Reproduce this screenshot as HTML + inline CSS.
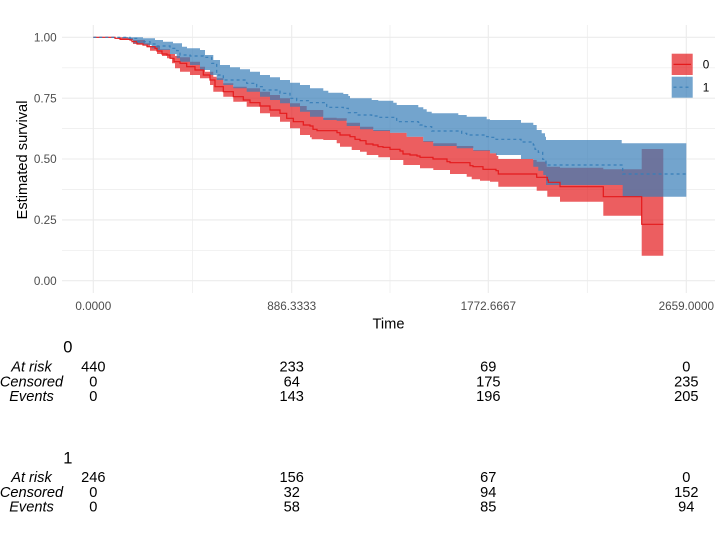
<!DOCTYPE html>
<html>
<head>
<meta charset="utf-8">
<style>
  html,body{margin:0;padding:0;background:#fff;}
  svg{display:block;}
  text{font-family:"Liberation Sans", Arial, sans-serif;}
</style>
</head>
<body>
<svg width="716" height="552" viewBox="0 0 716 552" xmlns="http://www.w3.org/2000/svg">
  <rect x="0" y="0" width="716" height="552" fill="#ffffff"/>

  <!-- minor grid -->
  <g stroke="#EBEBEB" stroke-width="0.7" fill="none">
    <line x1="62" x2="715" y1="250.3" y2="250.3"/>
    <line x1="62" x2="715" y1="189.5" y2="189.5"/>
    <line x1="62" x2="715" y1="128.6" y2="128.6"/>
    <line x1="62" x2="715" y1="67.8" y2="67.8"/>
    <line x1="192.5" x2="192.5" y1="25" y2="293"/>
    <line x1="390" x2="390" y1="25" y2="293"/>
    <line x1="587.3" x2="587.3" y1="25" y2="293"/>
  </g>
  <!-- major grid -->
  <g stroke="#EBEBEB" stroke-width="1.1" fill="none">
    <line x1="62" x2="715" y1="37.3" y2="37.3"/>
    <line x1="62" x2="715" y1="98.2" y2="98.2"/>
    <line x1="62" x2="715" y1="159" y2="159"/>
    <line x1="62" x2="715" y1="219.9" y2="219.9"/>
    <line x1="62" x2="715" y1="280.7" y2="280.7"/>
    <line x1="93.3" x2="93.3" y1="25" y2="293"/>
    <line x1="291.7" x2="291.7" y1="25" y2="293"/>
    <line x1="488.3" x2="488.3" y1="25" y2="293"/>
    <line x1="686.3" x2="686.3" y1="25" y2="293"/>
  </g>

  <!-- red ribbon -->
  <path fill="#E41A1C" fill-opacity="0.7" stroke="none" d="M93.3 37.3 H128 V38.3 H133 V40 H145 V43.3 H150 V46 H160 V49.3 H170 V54 H175 V56 H180 V57.3 H190 V61.7 H200 V66.7 H205 V71.7 H213.3 V76.7 H216.7 V78.3 H223.3 V83.3 H233.3 V86.7 H246.7 V88.3 H260 V91.7 H270 V95 H280 V98.3 H290 V103.3 H300 V106 H306.7 V110 H323.3 V117.7 H336.7 V118.3 H346.7 V122.7 H360 V126.7 H373.3 V130 H390 V132.7 H406.7 V136.7 H423.3 V141 H433.3 V143.3 H456.7 V146 H473.3 V150 H490 V153.3 H496.7 V156 H498.3 V159 H533.3 V160 H536.7 V161.7 H546.7 V166.7 H560 V167.7 H603.3 V169.3 H641.7 V149 H663.3 V255.7 H641.7 V215.7 H603.3 V201.7 H560 V196.7 H547.3 V190.7 H536.7 V186.7 H498.3 V181.7 H490 V180.7 H480 V179.3 H471.7 V176.7 H466.7 V174 H450 V170 H433.3 V168.3 H420 V165 H403.3 V160 H390 V157.3 H378.3 V155 H366.7 V151.7 H360 V150 H351.7 V146.7 H340 V143.3 H336.7 V140 H323.3 V139.3 H311.7 V137.3 H310 V135 H300 V128.3 H290 V121.7 H280 V116.7 H270 V113.3 H260 V106.7 H246.7 V101.7 H233.3 V96.7 H223.3 V91.7 H213.3 V85 H210 V78.3 H200 V75 H190 V71.7 H180 V68.3 H175 V63.3 H172 V58.3 H167 V56 H162 V54 H157 V50.7 H150 V47.3 H147 V44 H133 V40 H120 V38.3 H118 V37.3 H93.3 Z"/>

  <!-- blue ribbon -->
  <path fill="#377EB8" fill-opacity="0.7" stroke="none" d="M93.3 37.3 H143 V38.3 H155 V40 H163 V41.7 H173 V43.3 H182 V46.7 H187 V48.3 H200 V50 H205 V55 H213.3 V60 H220 V65 H230 V67.3 H240 V69.3 H250 V71.7 H260 V75 H270 V77.3 H280 V80 H290 V82.7 H300 V85 H310 V88.3 H323.3 V90.7 H328.3 V92.7 H343.3 V94 H348.3 V96 H350 V98.3 H371.7 V100 H378.3 V100.7 H393.3 V102.7 H396.7 V105 H418.3 V107.3 H423.3 V109.3 H426.7 V111.7 H431.7 V113.3 H458.3 V115 H466.7 V116.7 H486.7 V119.3 H490 V120 H521 V122.7 H533.3 V125 H536.7 V130 H541.7 V133.3 H545 V136.7 H546 V140 H621.7 V143.3 H686.3 V196.7 H622.7 V185 H546 V175 H543.3 V170.7 H538.3 V166.7 H533.3 V159 H521 V155 H496 V153.3 H490 V150.7 H473.3 V148.3 H456.7 V146 H433.3 V141.7 H423.3 V136.7 H406.7 V132.7 H390 V131 H373.3 V129.3 H360 V126 H346.7 V120.7 H336.7 V120 H323.3 V116.7 H310 V111.7 H300 V106.7 H290 V103.3 H280 V100 H270 V96.7 H260 V91.7 H246.7 V88.3 H233.3 V85 H223.3 V80 H216.7 V75 H210 V70 H200 V65 H190 V61.7 H180 V58.3 H176.7 V54 H170 V50 H156.7 V48.3 H151.7 V45 H143.3 V43.3 H133.3 V40 H128 V38.3 H122 V37.3 H93.3 Z"/>

  <!-- red line -->
  <path fill="none" stroke="#E41A1C" stroke-width="1.2" d="M93.3 37.3 H115 V38.3 H120 V39.3 H130 V40 H132 V41.7 H137 V44 H143 V45 H147 V46.7 H155 V48.3 H157 V51 H162 V54 H167 V55 H170 V58.3 H174 V61.7 H180 V63.3 H186.7 V66.7 H195 V70 H203.3 V75 H210 V80 H215 V86.7 H223.3 V91.7 H233.3 V96.7 H243.3 V100 H250 V102.7 H260 V106 H270 V110 H280 V113.3 H286.7 V118.3 H293.3 V121.7 H303.3 V125 H310 V126 H313 V129.3 H317 V130.7 H337 V132.7 H340 V135 H350 V136.7 H355 V139.3 H360 V140.7 H366 V144 H373 V145 H378 V146.7 H383 V147.3 H390 V149.3 H400 V151 H403 V154 H410 V155 H417 V156 H420 V157.3 H433 V159 H447 V161.7 H450 V162.7 H470 V165.7 H473 V166.7 H483 V169.3 H496 V170.7 H498.3 V174 H536.7 V177.3 H547.3 V180 H548.3 V182.3 H560 V186.7 H603.3 V196.7 H641.7 V224.3 H663.3"/>

  <!-- blue line dashed -->
  <path fill="none" stroke="#377EB8" stroke-width="1.2" stroke-dasharray="3,3" d="M93.3 37.3 H130 V38.3 H136.7 V41.7 H150 V44 H156.7 V46 H170 V48.3 H176.7 V50.7 H180 V55 H190 V56 H203.3 V57.3 H211.7 V63.3 H216.7 V75 H223.3 V80 H246.7 V83.3 H256.7 V86.7 H263.3 V90 H280 V93.3 H290 V98.3 H296.7 V100.7 H310 V102.7 H326.7 V107.3 H343.3 V108.3 H348.3 V112.7 H356.7 V115 H371.7 V116 H378.3 V117.3 H396.7 V121.7 H418.3 V122.3 H420 V125 H425 V126.7 H431.7 V131 H461.7 V133.3 H466.7 V135 H486.7 V136.7 H490 V137.3 H496 V139.3 H521 V142 H533.3 V145 H535 V149.3 H538.3 V152.3 H542.7 V159.3 H546 V165 H622.7 V174 H686.3"/>

  <!-- y tick labels -->
  <g fill="#4D4D4D" font-size="11.73" text-anchor="end">
    <text x="56.7" y="41.6">1.00</text>
    <text x="56.7" y="102.4">0.75</text>
    <text x="56.7" y="163.2">0.50</text>
    <text x="56.7" y="224.1">0.25</text>
    <text x="56.7" y="284.9">0.00</text>
  </g>
  <!-- x tick labels -->
  <g fill="#4D4D4D" font-size="11.73" text-anchor="middle">
    <text x="93.3" y="310">0.0000</text>
    <text x="291.7" y="310">886.3333</text>
    <text x="488.3" y="310">1772.6667</text>
    <text x="686.3" y="310">2659.0000</text>
  </g>

  <!-- axis titles -->
  <text x="388.5" y="328.3" font-size="14.67" text-anchor="middle" fill="#000">Time</text>
  <text transform="translate(27,160) rotate(-90)" font-size="14.67" text-anchor="middle" fill="#000">Estimated survival</text>

  <!-- legend -->
  <rect x="671.7" y="53.7" width="21" height="21.3" fill="#E41A1C" fill-opacity="0.7"/>
  <line x1="673.5" x2="691" y1="64.4" y2="64.4" stroke="#E41A1C" stroke-width="1.2"/>
  <rect x="671.7" y="76.7" width="21" height="21" fill="#377EB8" fill-opacity="0.7"/>
  <line x1="673.5" x2="691" y1="87.2" y2="87.2" stroke="#377EB8" stroke-width="1.2" stroke-dasharray="3,3"/>
  <text x="702.7" y="68.6" font-size="11.73" fill="#000">0</text>
  <text x="702.7" y="91.4" font-size="11.73" fill="#000">1</text>

  <!-- risk table group 0 -->
  <text x="63.3" y="352.7" font-size="16.5" fill="#000">0</text>
  <g font-size="14.6" fill="#000" text-anchor="middle" font-style="italic">
    <text x="31.5" y="371.7">At risk</text>
    <text x="31.5" y="386.4">Censored</text>
    <text x="31.5" y="401.1">Events</text>
  </g>
  <g font-size="14.6" fill="#000" text-anchor="middle">
    <text x="93.3" y="371.7">440</text>
    <text x="291.7" y="371.7">233</text>
    <text x="488.3" y="371.7">69</text>
    <text x="686.3" y="371.7">0</text>
    <text x="93.3" y="386.4">0</text>
    <text x="291.7" y="386.4">64</text>
    <text x="488.3" y="386.4">175</text>
    <text x="686.3" y="386.4">235</text>
    <text x="93.3" y="401.1">0</text>
    <text x="291.7" y="401.1">143</text>
    <text x="488.3" y="401.1">196</text>
    <text x="686.3" y="401.1">205</text>
  </g>

  <!-- risk table group 1 -->
  <text x="63.3" y="463.3" font-size="16.5" fill="#000">1</text>
  <g font-size="14.6" fill="#000" text-anchor="middle" font-style="italic">
    <text x="31.5" y="482.2">At risk</text>
    <text x="31.5" y="496.9">Censored</text>
    <text x="31.5" y="511.6">Events</text>
  </g>
  <g font-size="14.6" fill="#000" text-anchor="middle">
    <text x="93.3" y="482.2">246</text>
    <text x="291.7" y="482.2">156</text>
    <text x="488.3" y="482.2">67</text>
    <text x="686.3" y="482.2">0</text>
    <text x="93.3" y="496.9">0</text>
    <text x="291.7" y="496.9">32</text>
    <text x="488.3" y="496.9">94</text>
    <text x="686.3" y="496.9">152</text>
    <text x="93.3" y="511.6">0</text>
    <text x="291.7" y="511.6">58</text>
    <text x="488.3" y="511.6">85</text>
    <text x="686.3" y="511.6">94</text>
  </g>
</svg>
</body>
</html>
